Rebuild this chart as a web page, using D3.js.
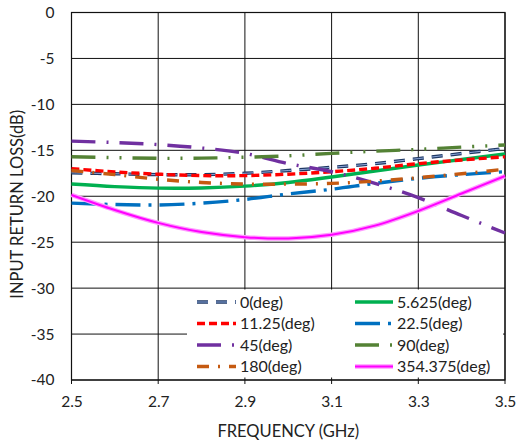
<!DOCTYPE html>
<html><head><meta charset="utf-8">
<script src="https://cdn.jsdelivr.net/npm/d3@7"></script>
<style>body{margin:0;background:#fff}svg{display:block}text{font-family:Lato,"Open Sans",sans-serif;fill:#222}</style>
</head><body><svg id="c" width="516" height="443"></svg>
<script>
const freqs = [2.5,2.6,2.7,2.8,2.9,3.0,3.1,3.2,3.3,3.4,3.5];
const s0     = [-17.45,-17.55,-17.65,-17.65,-17.5,-17.2,-16.85,-16.45,-15.9,-15.35,-14.8];
const s5625  = [-18.67,-18.95,-19.12,-19.1,-18.9,-18.5,-17.9,-17.25,-16.6,-16.0,-15.4];
const s1125  = [-17.0,-17.35,-17.6,-17.75,-17.75,-17.6,-17.33,-16.95,-16.45,-16.05,-15.7];
const s225   = [-20.75,-20.9,-20.95,-20.75,-20.35,-19.75,-19.24,-18.6,-18.05,-17.65,-17.33];
const s45    = [-14.0,-14.15,-14.38,-14.75,-15.33,-16.45,-17.33,-18.6,-20.15,-22.1,-24.0];
const s90    = [-15.7,-15.8,-15.87,-15.85,-15.75,-15.6,-15.33,-15.1,-14.9,-14.65,-14.42];
const s180   = [-17.2,-17.65,-18.15,-18.5,-18.67,-18.68,-18.6,-18.35,-17.98,-17.55,-17.06];
const s354   = [-19.86,-21.5,-22.9,-23.9,-24.45,-24.6,-24.2,-23.2,-21.6,-19.7,-17.8];
const xTicks = [2.5,2.7,2.9,3.1,3.3,3.5];
const yTicks = [0,-5,-10,-15,-20,-25,-30,-35,-40];

const series = [
  {name:"0(deg)", v:s0, color:"#1F3864", dash:"11,8", inner:"#8EA9DB"},
  {name:"5.625(deg)", v:s5625, color:"#00B050", dash:null},
  {name:"11.25(deg)", v:s1125, color:"#FF0000", dash:"8,4"},
  {name:"22.5(deg)", v:s225, color:"#0070C0", dash:"25,8,3,8"},
  {name:"45(deg)", v:s45, color:"#7030A0", dash:"24,11,2,11"},
  {name:"90(deg)", v:s90, color:"#548235", dash:"24,11,2,11,2,11"},
  {name:"180(deg)", v:s180, color:"#C55A11", dash:"12,9,2,9"},
  {name:"354.375(deg)", v:s354, color:"#FF00FF", dash:null, glow:"#FF99FF"}
];

const L=71.5, R=505, T=12.5, B=380;
const svg = d3.select("#c");
const x = d3.scaleLinear().domain([2.5,3.5]).range([L,R]);
const y = d3.scaleLinear().domain([-40,0]).range([B,T]);

// grid
svg.append("g").selectAll("line").data(xTicks).join("line")
  .attr("x1",d=>x(d)).attr("x2",d=>x(d)).attr("y1",T).attr("y2",B+4)
  .attr("stroke","#111").attr("stroke-width",1);
svg.append("g").selectAll("line").data(yTicks).join("line")
  .attr("x1",L).attr("x2",R).attr("y1",d=>y(d)).attr("y2",d=>y(d))
  .attr("stroke","#111").attr("stroke-width",1);
svg.append("rect").attr("x",L).attr("y",T).attr("width",R-L).attr("height",B-T)
  .attr("fill","none").attr("stroke","#111").attr("stroke-width",1.2);

// axes labels
const xAxis = d3.axisBottom(x).tickValues(xTicks).tickSize(0).tickPadding(16).tickFormat(d=>d.toFixed(1));
const gx = svg.append("g").attr("transform",`translate(0,${B})`).call(xAxis);
gx.select(".domain").remove();
gx.selectAll("text").attr("font-size",15.5).attr("font-family","Lato").attr("fill","#222");
const yAxis = d3.axisLeft(y).tickValues(yTicks).tickSize(0).tickPadding(17).tickFormat(d=>String(d));
const gy = svg.append("g").attr("transform",`translate(${L},0)`).call(yAxis);
gy.select(".domain").remove();
gy.selectAll("text").attr("font-size",15.5).attr("font-family","Lato").attr("fill","#222");

svg.append("text").attr("x",(L+R)/2).attr("y",437).attr("text-anchor","middle").attr("font-size",16.5).text("FREQUENCY (GHz)");
svg.append("text").attr("transform",`translate(23,${(T+B)/2+8}) rotate(-90)`).attr("text-anchor","middle").attr("font-size",16.5).text("INPUT RETURN LOSS(dB)");

// lines
const line = d3.line().x(d=>x(d[0])).y(d=>y(d[1])).curve(d3.curveCatmullRom.alpha(0.5));
const plot = svg.append("g");
series.forEach(s=>{
  const pts = freqs.map((f,i)=>[f,s.v[i]]);
  if(s.glow) plot.append("path").attr("d",line(pts)).attr("fill","none").attr("stroke",s.glow).attr("stroke-width",4.5);
  plot.append("path").attr("d",line(pts)).attr("fill","none").attr("stroke",s.color)
    .attr("stroke-width",s.glow?2:3.4).attr("stroke-dasharray",s.dash).attr("stroke-linecap","butt");
  if(s.inner) plot.append("path").attr("d",line(pts)).attr("fill","none").attr("stroke",s.inner)
    .attr("stroke-width",1).attr("stroke-dasharray",s.dash);
});

// legend
svg.append("rect").attr("x",187).attr("y",289.5).attr("width",316).attr("height",88).attr("fill","#fff");
const lg = svg.append("g");
series.forEach((s,i)=>{
  const col = i%2, row = Math.floor(i/2);
  const cy = 302 + row*21.5;
  const x0 = col===0?197:355, x1 = col===0?236:393, tx = col===0?240:397;
  if(s.glow) lg.append("line").attr("x1",x0).attr("x2",x1).attr("y1",cy).attr("y2",cy).attr("stroke",s.glow).attr("stroke-width",4.5);
  lg.append("line").attr("x1",x0).attr("x2",x1).attr("y1",cy).attr("y2",cy).attr("stroke",s.color)
    .attr("stroke-width",s.glow?2:3.4).attr("stroke-dasharray",s.dash);
  if(s.inner) lg.append("line").attr("x1",x0).attr("x2",x1).attr("y1",cy).attr("y2",cy).attr("stroke",s.inner).attr("stroke-width",1).attr("stroke-dasharray",s.dash);
  lg.append("text").attr("x",tx).attr("y",cy+5.5).attr("font-size",16).text(s.name);
});
</script></body></html>
